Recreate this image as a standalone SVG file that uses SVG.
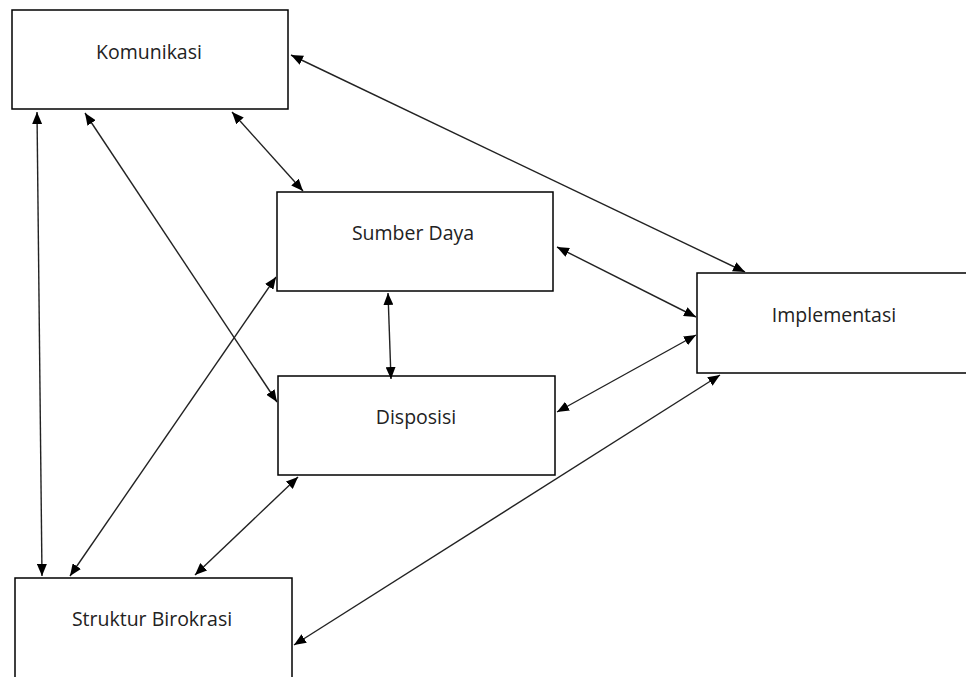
<svg xmlns="http://www.w3.org/2000/svg" width="966" height="677" viewBox="0 0 966 677">
<style>
.box{fill:#fff;stroke:#000;stroke-width:1.5}
.lbl{font-family:"Open Sans","Liberation Sans",sans-serif;font-size:19.5px;fill:#222;text-anchor:middle}
.c{stroke:#222;stroke-width:1.4;fill:none;marker-start:url(#ah);marker-end:url(#ah)}
</style>
<defs>
<marker id="ah" viewBox="0 0 12 10" refX="12" refY="5" markerWidth="12" markerHeight="10" markerUnits="userSpaceOnUse" orient="auto-start-reverse">
<path d="M0,0 L12,5 L0,10 Z" fill="#000"/>
</marker>
</defs>
<rect width="966" height="677" fill="#fff"/>
<g id="komunikasi"><rect class="box" x="12" y="10" width="276" height="99"/><text class="lbl" x="149" y="59">Komunikasi</text></g>
<g id="sumber-daya"><rect class="box" x="277" y="192" width="276" height="99"/><text class="lbl" x="413" y="240">Sumber Daya</text></g>
<g id="implementasi"><rect class="box" x="697" y="273" width="280" height="100"/><text class="lbl" x="834" y="322">Implementasi</text></g>
<g id="disposisi"><rect class="box" x="278" y="376" width="277" height="99"/><text class="lbl" x="416" y="424">Disposisi</text></g>
<g id="struktur-birokrasi"><rect class="box" x="15" y="578" width="277" height="110"/><text class="lbl" x="152" y="626">Struktur Birokrasi</text></g>
<g id="connectors">
<line class="c" x1="291" y1="55" x2="745" y2="272"/>
<line class="c" x1="232" y1="112" x2="303" y2="191"/>
<line class="c" x1="85" y1="113" x2="277" y2="402"/>
<line class="c" x1="37" y1="112" x2="42" y2="576"/>
<line class="c" x1="557" y1="247" x2="696" y2="317"/>
<line class="c" x1="388" y1="293" x2="391" y2="379"/>
<line class="c" x1="557" y1="412" x2="696" y2="335"/>
<line class="c" x1="70" y1="576" x2="276" y2="277"/>
<line class="c" x1="195" y1="575" x2="298" y2="477"/>
<line class="c" x1="294" y1="645" x2="720" y2="375"/>
</g>
</svg>
